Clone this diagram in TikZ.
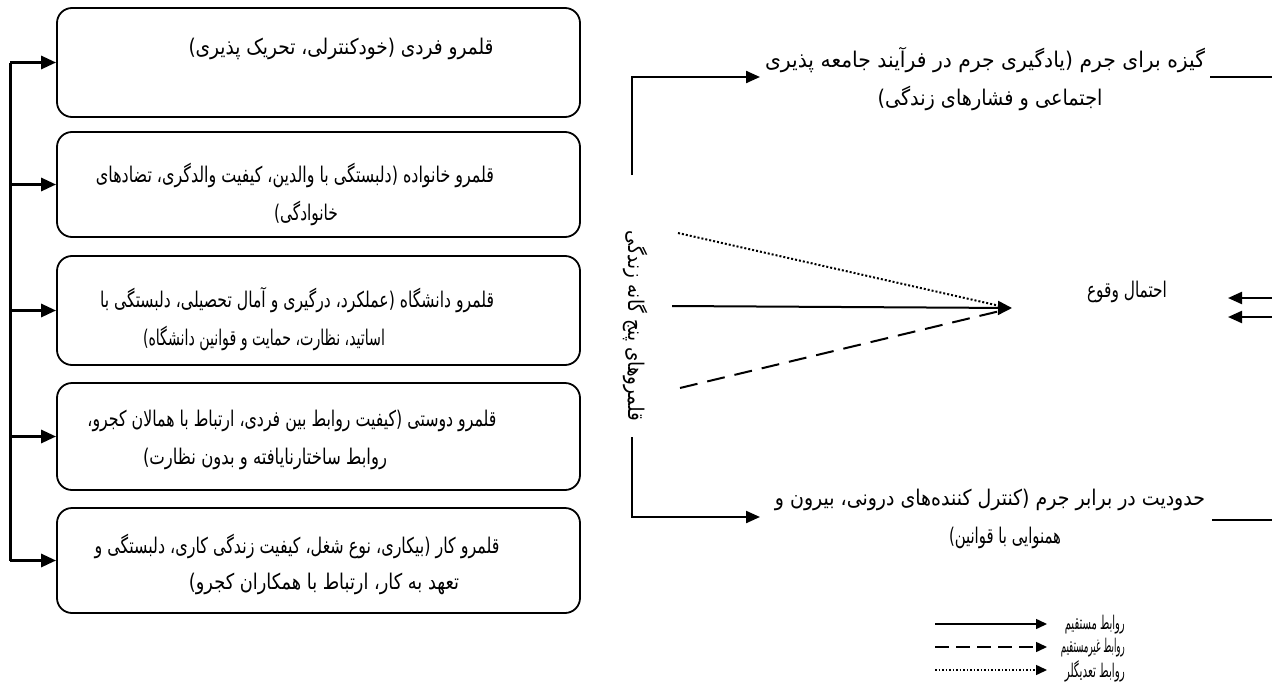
\documentclass[tikz,border=0pt]{standalone}
\usepackage{fontspec}
\usepackage{graphicx}
\usetikzlibrary{arrows.meta}
\newfontfamily\arabicfont[Script=Arabic]{DejaVu Sans}
\TeXXeTstate=1
\newcommand\fl[2]{\resizebox{#1pt}{1.35\height}{#2}}
\tikzset{
  box/.style={draw, rounded corners=15pt, line width=1.8pt, minimum width=523pt, inner sep=0pt},
  txt/.style={inner sep=0pt, font=\arabicfont\fontsize{16}{18}\selectfont},
  legtxt/.style={inner sep=0pt, font=\arabicfont\fontsize{14}{16}\selectfont},
  spine/.style={line width=3pt},
  arr/.style={line width=3pt, -{Triangle[length=15pt,width=13pt]}},
  rarr/.style={line width=2.2pt, -{Triangle[length=14pt,width=12pt]}},
  plain/.style={line width=2.2pt},
  hubline/.style={line width=2pt},
  legline/.style={line width=1.5pt, -{Triangle[length=11pt,width=10pt]}}
}
\begin{document}
\begin{tikzpicture}[x=1pt,y=-1pt]
\useasboundingbox[fill=white] (0,0) rectangle (1272,688);
% left boxes
\node[box, minimum height=109pt] (b1) at (318.5,62.5) {};
\node[box, minimum height=105pt] (b2) at (318.5,184.5) {};
\node[box, minimum height=109pt] (b3) at (318.5,310.5) {};
\node[box, minimum height=107pt] (b4) at (318.5,436.5) {};
\node[box, minimum height=105pt] (b5) at (318.5,560.5) {};
% box texts
\node[txt] (b1t) at (341,49) {\fl{305}{\beginR قلمرو فردی (خودکنترلی، تحریک پذیری)\endR}};
\node[txt] (b2t1) at (295,175) {\fl{398}{\beginR قلمرو خانواده (دلبستگی با والدین، کیفیت والدگری، تضادهای\endR}};
\node[txt] (b2t2) at (306,213) {\fl{64}{\beginR خانوادگی)\endR}};
\node[txt] (b3t1) at (297,300) {\fl{394}{\beginR قلمرو دانشگاه (عملکرد، درگیری و آمال تحصیلی، دلبستگی با\endR}};
\node[txt] (b3t2) at (264,338) {\fl{242}{\beginR اساتید، نظارت، حمایت و قوانین دانشگاه)\endR}};
\node[txt] (b4t1) at (292,421) {\fl{409}{\beginR قلمرو دوستی (کیفیت روابط بین فردی، ارتباط با همالان کجرو،\endR}};
\node[txt] (b4t2) at (265,459) {\fl{244}{\beginR روابط ساختارنایافته و بدون نظارت)\endR}};
\node[txt] (b5t1) at (297,546) {\fl{405}{\beginR قلمرو کار (بیکاری، نوع شغل، کیفیت زندگی کاری، دلبستگی و\endR}};
\node[txt] (b5t2) at (324,584) {\fl{270}{\beginR تعهد به کار، ارتباط با همکاران کجرو)\endR}};
% spine
\coordinate (s1) at (10,62.5);
\coordinate (s5) at (10,560.5);
\draw[spine] (s1) -- (s5);
\draw[arr] (s1) -- (b1.west);
\draw[arr] (s1 |- b2.west) -- (b2.west);
\draw[arr] (s1 |- b3.west) -- (b3.west);
\draw[arr] (s1 |- b4.west) -- (b4.west);
\draw[arr] (s5) -- (b5.west);
% right upper
\node[txt] (t1a) at (985,60) {\fl{440}{\beginR گیزه برای جرم (یادگیری جرم در فرآیند جامعه پذیری\endR}};
\node[txt] (t1b) at (990,98) {\fl{225}{\beginR اجتماعی و فشارهای زندگی)\endR}};
\coordinate (u0) at (632,175);
\coordinate (u1) at (760,77);
\draw[rarr] (u0) |- (u1);
\coordinate (ur0) at (1210,77);
\coordinate (ur1) at (1272,77);
\draw[plain] (ur0) -- (ur1);
% rotated label
\node[txt, rotate=-90] (rot) at (636,326) {\fl{190}{\beginR قلمروهای پنج گانه زندگی\endR}};
% hub
\coordinate (hub) at (1012,308);
\coordinate (hs) at (672,306);
\coordinate (hd) at (678,233);
\coordinate (hk) at (680,388);
\coordinate (hde) at (1000,306);
\coordinate (hke) at (1000,311);
\draw[hubline, dotted, line width=2pt] (hd) -- (hde);
\draw[hubline, dash pattern=on 18pt off 10pt] (hk) -- (hke);
\draw[hubline, -{Triangle[length=14pt,width=14pt]}] (hs) -- (hub);
\node[txt] (prob) at (1127,292) {\fl{80}{\beginR احتمال وقوع\endR}};
\coordinate (p1s) at (1272,298);
\coordinate (p1e) at (1228,298);
\coordinate (p2s) at (1272,317);
\coordinate (p2e) at (1228,317);
\draw[rarr] (p1s) -- (p1e);
\draw[rarr] (p2s) -- (p2e);
% right lower
\coordinate (l0) at (632,437);
\coordinate (l1) at (760,517);
\draw[rarr] (l0) |- (l1);
\node[txt] (t2a) at (990,500) {\fl{430}{\beginR حدودیت در برابر جرم (کنترل کننده‌های درونی، بیرون و\endR}};
\node[txt] (t2b) at (1005,538) {\fl{112}{\beginR همنوایی با قوانین)\endR}};
\coordinate (lr0) at (1212,520);
\coordinate (lr1) at (1272,520);
\draw[plain] (lr0) -- (lr1);
% legend
\coordinate (g1s) at (935,624);
\coordinate (g1e) at (1047,624);
\coordinate (g2s) at (935,647);
\coordinate (g2e) at (1047,647);
\coordinate (g3s) at (935,670);
\coordinate (g3e) at (1047,670);
\draw[legline] (g1s) -- (g1e);
\draw[legline, dash pattern=on 14pt off 7pt] (g2s) -- (g2e);
\draw[legline, dotted] (g3s) -- (g3e);
\node[legtxt, anchor=east] (g1t) at (1125,625) {\fl{60}{\beginR روابط مستقیم\endR}};
\node[legtxt, anchor=east] (g2t) at (1125,648) {\fl{64}{\beginR روابط غیرمستقیم\endR}};
\node[legtxt, anchor=east] (g3t) at (1125,671) {\fl{60}{\beginR روابط تعدیگلر\endR}};
\end{tikzpicture}
\end{document}
